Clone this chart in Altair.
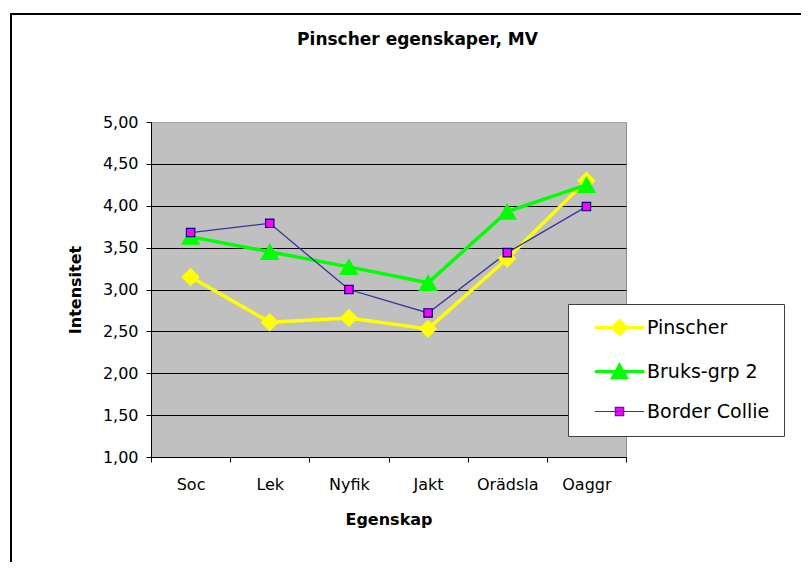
import altair as alt
import pandas as pd

categories = ["Soc", "Lek", "Nyfik", "Jakt", "Orädsla", "Oaggr"]
series_names = ["Pinscher", "Bruks-grp 2", "Border Collie"]
pinscher = [3.15, 2.61, 2.66, 2.53, 3.37, 4.30]
bruks = [3.63, 3.45, 3.27, 3.08, 3.93, 4.25]
border_collie = [3.68, 3.79, 3.00, 2.72, 3.44, 3.99]
y_ticks = [1.0, 1.5, 2.0, 2.5, 3.0, 3.5, 4.0, 4.5, 5.0]

line_colors = ["#FFFF00", "#00FF00", "#333399"]
line_widths = [3.5, 3.5, 1.3]
marker_fill = ["#FFFF00", "#00FF00", "#FF00FF"]
marker_stroke = ["#FFFF00", "#00FF00", "#000080"]
marker_shapes = ["diamond", "triangle-up", "square"]
marker_sizes = [280, 300, 70]
legend_shapes = [
    "M-3.5,0L3.5,0M0,-1L1,0L0,1L-1,0Z",
    "M-3.5,0L3.5,0M0,-0.9L1,0.9L-1,0.9Z",
    "M-3.5,0L3.5,0M-0.6,-0.6L0.6,-0.6L0.6,0.6L-0.6,0.6Z",
]
legend_widths = [3, 3, 1.2]

rows = []
for name, vals in zip(series_names, [pinscher, bruks, border_collie]):
    for i, (c, v) in enumerate(zip(categories, vals)):
        rows.append({"Egenskap": c, "serie": name, "value": v, "idx": i})
df = pd.DataFrame(rows)

FONT = "DejaVu Sans"

x_enc = alt.X(
    "Egenskap:N",
    sort=categories,
    scale=alt.Scale(type="band", paddingInner=0, paddingOuter=0),
    axis=alt.Axis(
        title="Egenskap",
        labelAngle=0,
        tickBand="extent",
        tickSize=5,
        labelPadding=14,
        grid=False,
        titleY=62,
        titleBaseline="middle",
    ),
)
y_enc = alt.Y(
    "value:Q",
    scale=alt.Scale(domain=[1, 5], nice=False, zero=False),
    axis=alt.Axis(
        title="Intensitet",
        values=y_ticks,
        labelExpr="replace(format(datum.value, '.2f'), '.', ',')",
        grid=True,
        gridColor={"condition": {"test": "datum.value >= 5", "value": "#A0A0A0"}, "value": "#000000"},
        tickSize=5,
        labelPadding=8,
        titleX=-76,
        titleY=167.5,
        titleAngle=-90,
        titleAlign="center",
        titleBaseline="middle",
    ),
)

base = alt.Chart(df)

frame = alt.Chart(pd.DataFrame({"a": [0]})).mark_rect(
    fillOpacity=0, stroke="#000000", strokeWidth=2
).encode(
    x=alt.value(-140), x2=alt.value(700), y=alt.value(-108), y2=alt.value(520)
)

lines = base.mark_line().encode(
    x=x_enc,
    y=y_enc,
    order="idx:Q",
    color=alt.Color("serie:N", scale=alt.Scale(domain=series_names, range=line_colors), legend=None),
    strokeWidth=alt.StrokeWidth(
        "serie:N", scale=alt.Scale(type="ordinal", domain=series_names, range=line_widths), legend=None
    ),
)

points = base.mark_point(opacity=1, fillOpacity=1, strokeWidth=1.2).encode(
    x=x_enc,
    y=y_enc,
    shape=alt.Shape("serie:N", scale=alt.Scale(domain=series_names, range=marker_shapes), legend=None),
    fill=alt.Fill("serie:N", scale=alt.Scale(domain=series_names, range=marker_fill), legend=None),
    stroke=alt.Stroke("serie:N", scale=alt.Scale(domain=series_names, range=marker_stroke), legend=None),
    size=alt.Size(
        "serie:N", scale=alt.Scale(type="ordinal", domain=series_names, range=marker_sizes), legend=None
    ),
)

leg = alt.Legend(
    title=None,
    orient="none",
    legendX=417,
    legendY=182,
    padding=14,
    fillColor="#FFFFFF",
    strokeColor="#404040",
    labelFont=FONT,
    labelFontSize=19,
    labelColor="#000000",
    symbolSize=196,
    symbolOffset=28,
    labelOffset=18,
    rowPadding=18,
    labelLimit=300,
)

legend_layer = base.transform_filter("datum.value < 0").mark_point(opacity=1, fillOpacity=1).encode(
    x=x_enc,
    y=y_enc,
    shape=alt.Shape("serie:N", scale=alt.Scale(domain=series_names, range=legend_shapes), legend=leg),
    fill=alt.Fill("serie:N", scale=alt.Scale(domain=series_names, range=marker_fill), legend=leg),
    stroke=alt.Stroke("serie:N", scale=alt.Scale(domain=series_names, range=line_colors), legend=leg),
    strokeWidth=alt.StrokeWidth(
        "serie:N", scale=alt.Scale(type="ordinal", domain=series_names, range=legend_widths), legend=leg
    ),
)

chart = alt.layer(frame, lines, points, legend_layer).resolve_scale(
    shape="independent", fill="independent", stroke="independent", strokeWidth="independent", size="independent"
).properties(
    width=475,
    height=335,
    padding={"left": 143, "top": 114, "right": 175, "bottom": 105},
    autosize=alt.AutoSizeParams(type="none"),
    title=alt.TitleParams(
        "Pinscher egenskaper, MV",
        font=FONT,
        fontSize=17,
        fontWeight="bold",
        color="#000000",
        anchor="middle",
        frame="group",
        dx=29,
        offset=0,
        dy=49,
        baseline="alphabetic",
    ),
).configure_view(
    fill="#C0C0C0", stroke="#909090"
).configure_axis(
    labelFont=FONT,
    labelFontSize=16,
    labelColor="#000000",
    titleFont=FONT,
    titleFontSize=16,
    titleFontWeight="bold",
    titleColor="#000000",
    domainColor="#000000",
    tickColor="#000000",
    domainWidth=1,
)

chart.save("out.html", embed_options={"renderer": "svg", "actions": False})
